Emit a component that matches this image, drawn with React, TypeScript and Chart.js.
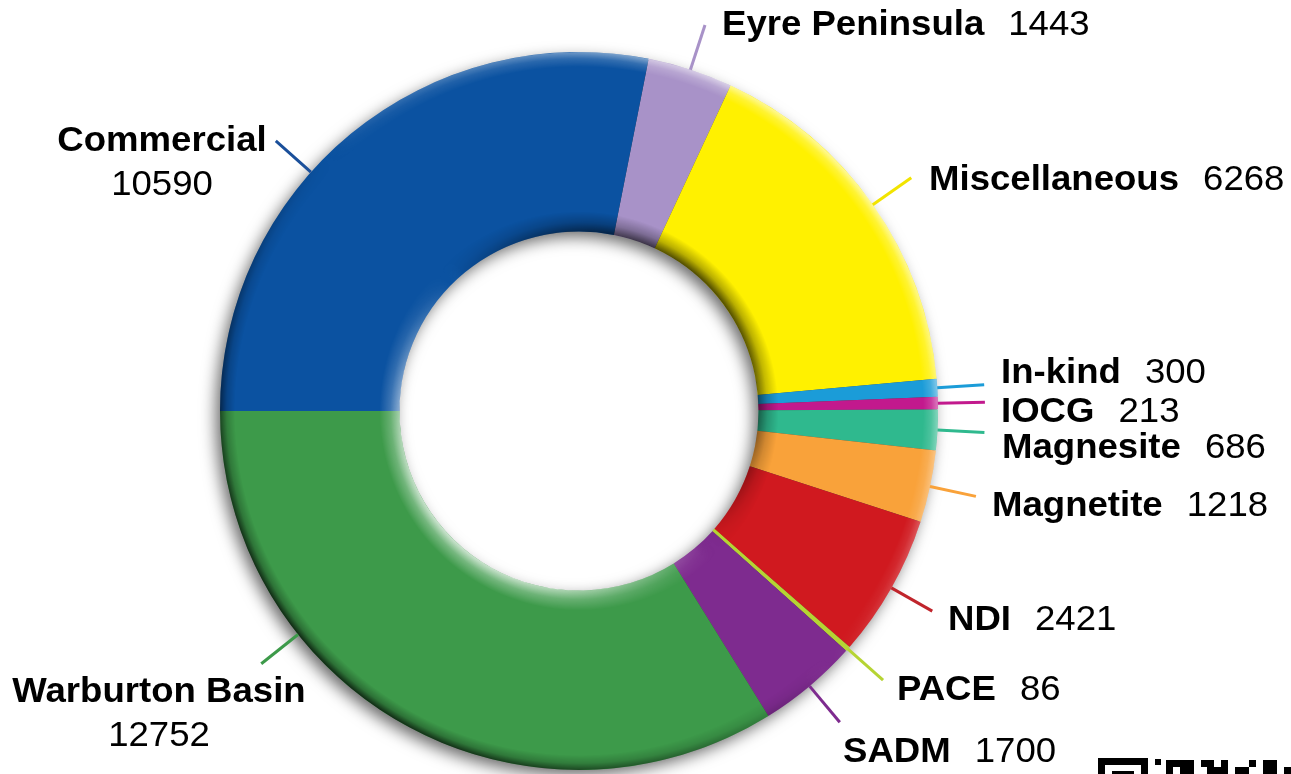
import React, { useEffect, useRef } from 'react';
import { Chart, registerables } from 'chart.js';

Chart.register(...registerables);

// ---- data ----
const categories = [
  'Eyre Peninsula',
  'Miscellaneous',
  'In-kind',
  'IOCG',
  'Magnesite',
  'Magnetite',
  'NDI',
  'PACE',
  'SADM',
  'Warburton Basin',
  'Commercial',
];
const values = [1443, 6268, 300, 213, 686, 1218, 2421, 86, 1700, 12752, 10590];

// ---- styles ----
const sliceColors = [
  '#a892c8',
  '#fff100',
  '#1b9cd8',
  '#c2198d',
  '#2fb98e',
  '#f9a23a',
  '#d0191f',
  '#b6d433',
  '#7e2b8f',
  '#3d9a4a',
  '#0b52a1',
];
const leaderColors = [
  '#a892c8',
  '#f2e400',
  '#1b9cd8',
  '#c2198d',
  '#2fb98e',
  '#f9a23a',
  '#c0252c',
  '#b6d433',
  '#7e2b8f',
  '#3d9a4a',
  '#1a4f9a',
];

// ---- label layout (text anchor positions) ----
const labelX = [722, 929, 1001, 1001, 1002, 992, 948, 897, 843, 159, 162];
const labelY = [35, 190, 383, 422, 458, 516, 630, 700, 762, 702, 151];
const labelStacked = [false, false, false, false, false, false, false, false, false, true, true];
const leaderFrac = [0.5, 0.5, 0.5, 0.5, 0.5, 0.5, 0.5, 0.5, 0.5, 0.684, 0.412];
const leaderFromInner = [false, false, false, false, false, false, false, true, false, false, false];

const FONT_FAMILY = '"Liberation Sans", Arial, Helvetica, sans-serif';
const FONT_SIZE = 35;
const TEXT_STRETCH = 1.045;

function drawBand(
  ctx: CanvasRenderingContext2D,
  cx: number,
  cy: number,
  rIn: number,
  rOut: number,
  outerEdge: boolean,
  colorAt: (k: number) => string
) {
  const W = ctx.canvas.width;
  const H = ctx.canvas.height;
  const off = document.createElement('canvas');
  off.width = W;
  off.height = H;
  const o = off.getContext('2d') as CanvasRenderingContext2D;
  const cg = (o as any).createConicGradient(0, cx, cy);
  const N = 72;
  for (let i = 0; i <= N; i++) {
    const ang = (i * 360) / N; // clockwise from 3 o'clock
    const k = Math.cos(((ang + 45) * Math.PI) / 180);
    cg.addColorStop(i / N, colorAt(k));
  }
  o.beginPath();
  o.arc(cx, cy, rOut, 0, Math.PI * 2);
  o.arc(cx, cy, rIn, 0, Math.PI * 2, true);
  o.closePath();
  o.fillStyle = cg;
  o.fill();
  o.globalCompositeOperation = 'destination-in';
  const rg = o.createRadialGradient(cx, cy, rIn, cx, cy, rOut);
  if (outerEdge) {
    rg.addColorStop(0, 'rgba(0,0,0,0)');
    rg.addColorStop(0.55, 'rgba(0,0,0,0.35)');
    rg.addColorStop(1, 'rgba(0,0,0,1)');
  } else {
    rg.addColorStop(0, 'rgba(0,0,0,1)');
    rg.addColorStop(0.45, 'rgba(0,0,0,0.4)');
    rg.addColorStop(1, 'rgba(0,0,0,0)');
  }
  o.fillStyle = rg;
  o.fillRect(0, 0, W, H);
  ctx.save();
  ctx.setTransform(1, 0, 0, 1, 0, 0);
  ctx.drawImage(off, 0, 0);
  ctx.restore();
}

const ringFx = {
  id: 'ringFx',
  beforeDatasetsDraw(chart: any) {
    const arc = chart.getDatasetMeta(0).data[0];
    if (!arc) return;
    const { x, y, outerRadius, innerRadius } = arc.getProps(
      ['x', 'y', 'outerRadius', 'innerRadius'],
      true
    );
    const ctx: CanvasRenderingContext2D = chart.ctx;
    ctx.save();
    ctx.beginPath();
    ctx.arc(x, y, outerRadius - 1, 0, Math.PI * 2);
    ctx.arc(x, y, innerRadius + 1, 0, Math.PI * 2, true);
    ctx.closePath();
    ctx.shadowColor = 'rgba(0,0,0,0.6)';
    ctx.shadowBlur = 16;
    ctx.shadowOffsetX = -5;
    ctx.shadowOffsetY = 6;
    ctx.fillStyle = '#444';
    ctx.fill();
    ctx.restore();
  },
  afterDatasetsDraw(chart: any) {
    const meta = chart.getDatasetMeta(0);
    const arc0 = meta.data[0];
    if (!arc0) return;
    const { x: cx, y: cy, outerRadius: R, innerRadius: r } = arc0.getProps(
      ['x', 'y', 'outerRadius', 'innerRadius'],
      true
    );
    const ctx: CanvasRenderingContext2D = chart.ctx;

    // outer edge bevel: light at upper-right, dark at lower-left
    drawBand(ctx, cx, cy, R - 15, R, true, (k) =>
      k > 0
        ? `rgba(255,255,255,${(0.6 * k).toFixed(3)})`
        : `rgba(0,0,0,${(0.75 * -k).toFixed(3)})`
    );
    // inner edge bevel: dark at upper-right, light at lower-left
    drawBand(ctx, cx, cy, r, r + 20, false, (k) =>
      k > 0
        ? `rgba(0,0,0,${(0.7 * k).toFixed(3)})`
        : `rgba(255,255,255,${(0.75 * -k).toFixed(3)})`
    );

    // leader lines
    ctx.save();
    ctx.lineCap = 'butt';
    ctx.lineWidth = 3;
    meta.data.forEach((el: any, i: number) => {
      const { startAngle, endAngle } = el.getProps(['startAngle', 'endAngle'], true);
      const a = startAngle + leaderFrac[i] * (endAngle - startAngle);
      const r0 = leaderFromInner[i] ? r : R;
      const r1 = R + 47;
      ctx.strokeStyle = leaderColors[i];
      ctx.beginPath();
      ctx.moveTo(cx + r0 * Math.cos(a), cy + r0 * Math.sin(a));
      ctx.lineTo(cx + r1 * Math.cos(a), cy + r1 * Math.sin(a));
      ctx.stroke();
    });
    ctx.restore();

    // labels
    ctx.save();
    ctx.fillStyle = '#000';
    ctx.textBaseline = 'alphabetic';
    const bold = `bold ${FONT_SIZE}px ${FONT_FAMILY}`;
    const reg = `${FONT_SIZE}px ${FONT_FAMILY}`;
    categories.forEach((name, i) => {
      const v = String(values[i]);
      ctx.save();
      ctx.translate(labelX[i], labelY[i]);
      ctx.scale(TEXT_STRETCH, 1);
      if (labelStacked[i]) {
        ctx.textAlign = 'center';
        ctx.font = bold;
        ctx.fillText(name, 0, 0);
        ctx.font = reg;
        ctx.fillText(v, 0, 44);
      } else {
        ctx.textAlign = 'left';
        ctx.font = bold;
        ctx.fillText(name, 0, 0);
        const w = ctx.measureText(name).width;
        ctx.font = reg;
        ctx.fillText(v, w + 23, 0);
      }
      ctx.restore();
    });
    ctx.restore();
  },
  afterDraw(chart: any) {
    // partial QR code visible at the bottom-right corner of the picture
    const ctx: CanvasRenderingContext2D = chart.ctx;
    ctx.save();
    ctx.fillStyle = '#000';
    ctx.fillRect(1098, 758, 50, 7);
    ctx.fillRect(1098, 758, 7, 20);
    ctx.fillRect(1141, 758, 7, 20);
    ctx.fillRect(1112, 771, 22, 5);
    const mods: number[][] = [
      [1155, 759, 6, 6],
      [1166, 760, 28, 7],
      [1166, 767, 7, 7],
      [1180, 767, 14, 7],
      [1201, 760, 13, 7],
      [1207, 767, 14, 7],
      [1221, 760, 7, 14],
      [1235, 767, 14, 7],
      [1249, 760, 7, 7],
      [1263, 760, 14, 14],
      [1284, 767, 7, 7],
    ];
    mods.forEach(([x, y, w, h]) => ctx.fillRect(x, y, w, h));
    ctx.restore();
  },
};

export default function App() {
  const canvasRef = useRef<HTMLCanvasElement | null>(null);

  useEffect(() => {
    document.body.style.margin = '0';
    const canvas = canvasRef.current;
    if (!canvas) return;
    const total = values.reduce((s, v) => s + v, 0);
    // the Warburton Basin slice ends exactly at 9 o'clock
    const beforeLast = total - values[values.length - 1];
    const rotation = 270 - (beforeLast / total) * 360;

    const chart = new Chart(canvas, {
      type: 'doughnut',
      data: {
        labels: categories,
        datasets: [
          {
            data: values,
            backgroundColor: sliceColors,
            borderWidth: 0,
            hoverOffset: 0,
          },
        ],
      },
      options: {
        responsive: false,
        animation: false,
        rotation,
        cutout: '50%',
        layout: { padding: { left: 220, right: 353, top: 52, bottom: 4 } },
        plugins: {
          legend: { display: false },
          tooltip: { enabled: false },
        },
        events: [],
      },
      plugins: [ringFx],
    });
    return () => chart.destroy();
  }, []);

  return (
    <div style={{ position: 'absolute', left: 0, top: 0, width: 1291, height: 774, background: '#fff' }}>
      <canvas ref={canvasRef} width={1291} height={774} style={{ display: 'block' }} />
    </div>
  );
}
